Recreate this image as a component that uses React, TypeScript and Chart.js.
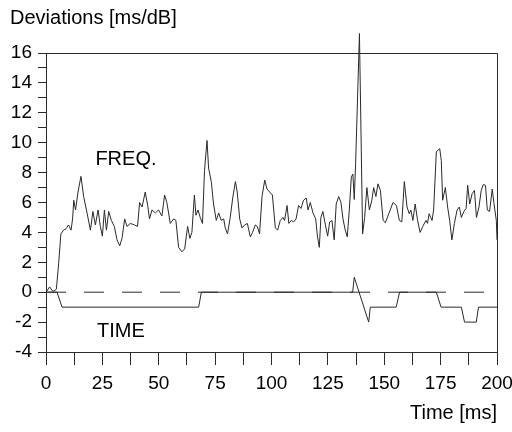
import React, { useEffect, useRef } from 'react';
import { Chart, registerables } from 'chart.js';

Chart.register(...registerables);

// FREQ series (time in ms, deviation in ms/dB)
const freqTimes = [
  0, 1.6, 3.1, 4.6, 5.6, 6.6, 7.8, 8.9, 10.0, 11.1, 11.8, 12.3, 13.1, 14.2, 15.5, 16.7, 18.2, 19.7,
  20.8, 21.9, 23.1, 24.1, 25.0, 25.9, 26.8, 27.8, 29.0, 30.3, 31.5, 32.7, 33.7, 34.9, 35.9, 37.4,
  39.2, 40.6, 41.5, 42.6, 44.0, 45.1, 45.9, 47.0, 48.5, 49.9, 51.4, 52.6, 53.6, 55.1, 56.6, 57.6,
  58.8, 60.3, 61.5, 62.8, 63.8, 64.7, 65.8, 66.5, 67.4, 68.4, 69.4, 70.3, 71.4, 72.1, 73.3, 74.3,
  75.5, 76.6, 77.7, 78.8, 79.5, 80.5, 81.7, 82.8, 84.0, 84.8, 85.9, 86.9, 88.1, 89.3, 90.6, 91.6,
  92.8, 93.7, 94.7, 95.8, 97.0, 98.0, 99.2, 100.4, 101.7, 102.7, 103.9, 105.1, 105.8, 106.9, 107.7,
  108.8, 109.8, 110.9, 112.0, 113.1, 114.2, 115.4, 116.2, 117.2, 118.4, 119.6, 120.4, 121.2, 121.9,
  122.8, 123.9, 124.9, 125.8, 126.8, 127.8, 128.7, 129.8, 130.8, 131.7, 132.7, 133.6, 134.5, 135.4,
  136.1, 136.7, 137.3, 139.0, 140.4, 141.3, 142.3, 143.4, 144.5, 145.3, 146.3, 147.2, 148.3, 149.5,
  150.5, 152.0, 153.9, 155.4, 156.7, 157.8, 158.9, 160.1, 161.1, 161.8, 162.7, 163.7, 164.8, 165.9,
  167.1, 168.5, 169.2, 169.9, 171.2, 171.9, 173.1, 174.6, 175.3, 175.9, 177.1, 178.1, 179.0, 180.0,
  181.1, 182.3, 183.3, 184.2, 185.3, 186.3, 187.0, 187.9, 189.0, 190.0, 190.9, 192.0, 193.0, 193.9,
  194.9, 195.7, 196.7, 197.9, 198.6, 199.7, 200.0,
];
const freqValues = [
  0, 0.35, 0.05, 0.2, 1.9, 3.9, 4.15, 4.25, 4.5, 4.15, 4.9, 6.15, 5.5, 6.7, 7.75, 6.4, 5.3, 4.15,
  5.4, 4.5, 5.5, 4.4, 3.75, 5.5, 4.15, 5.4, 4.8, 4.4, 3.5, 3.1, 3.6, 4.9, 4.4, 4.6,
  4.5, 4.4, 6.0, 5.7, 6.7, 5.8, 4.9, 5.5, 5.3, 5.5, 5.1, 6.5, 6.0, 4.6, 4.9, 4.8,
  3.0, 2.7, 2.9, 4.4, 3.6, 4.0, 6.5, 5.15, 5.5, 5.0, 4.6, 8.15, 10.15, 8.3, 7.4, 5.9,
  4.8, 5.3, 4.8, 4.9, 4.3, 3.9, 5.0, 6.3, 7.4, 6.7, 4.9, 4.3, 4.5, 4.6, 3.7, 4.0,
  4.5, 4.4, 3.9, 6.4, 7.5, 6.9, 6.7, 6.5, 4.3, 4.15, 4.8, 5.0, 4.8, 5.8, 4.6,
  4.8, 4.7, 4.9, 5.8, 5.6, 6.15, 6.3, 5.5, 6.0, 5.3, 4.9, 3.7, 3.0, 5.0,
  5.4, 4.5, 3.75, 4.7, 4.8, 3.5, 5.9, 6.4, 6.0, 4.9, 4.15, 3.7, 5.5, 7.7,
  7.9, 6.2, 8.6, 17.3, 3.9, 5.0, 7.0, 5.5, 6.15, 7.0, 6.4, 7.25, 6.8, 4.8,
  4.65, 5.25, 6.0, 5.8, 4.8, 4.7, 7.4, 5.7, 5.25, 5.5, 4.8, 5.9, 4.8, 4.0,
  4.4, 4.8, 4.6, 5.25, 4.8, 5.5, 9.4, 9.6, 8.8, 6.15, 7.0, 5.7, 4.8, 3.5,
  4.6, 5.5, 5.7, 5.0, 5.4, 5.6, 7.15, 5.9, 6.6, 6.8, 5.0, 5.7, 6.8, 7.2,
  7.15, 5.5, 5.4, 6.9, 6.0, 4.8, 3.5,
];

// TIME series
const timeTimes = [0, 4.9, 7.1, 67.7, 68.9, 136.0, 136.7, 143.1, 143.8, 155.3, 156.8, 173.1, 175.2, 184.2, 185.6, 190.8, 191.8, 200];
const timeValues = [0, 0, -1, -1, 0, 0, 1, -2, -1, -1, 0, 0, -1, -1, -2, -2, -1, -1];

// dashed zero reference
const zeroTimes = [0, 200];
const zeroValues = [0, 0];

// tick labels
const xLabelTicks = [0, 25, 50, 75, 100, 125, 150, 175, 200];
const yLabelTicks = [-4, -2, 0, 2, 4, 6, 8, 10, 12, 14, 16];

// in-plot series labels (data coordinates)
const seriesLabels = ['FREQ.', 'TIME'];
const seriesLabelX = [21.9, 22.6];
const seriesLabelY = [8.9, -2.6];

const yTitle = 'Deviations [ms/dB]';
const xTitle = 'Time [ms]';

const FONT = '"Liberation Sans", Arial, sans-serif';
const INK = '#2a2a2a';

const toPoints = (xs: number[], ys: number[]) => xs.map((x, i) => ({ x, y: ys[i] }));

const decorPlugin = {
  id: 'decor',
  afterDraw(chart: any) {
    const { ctx, chartArea, scales } = chart;
    ctx.save();
    ctx.strokeStyle = INK;
    ctx.lineWidth = 1;
    ctx.beginPath();
    ctx.moveTo(chartArea.left, chartArea.top + 0.5);
    ctx.lineTo(chartArea.right + 0.5, chartArea.top + 0.5);
    ctx.lineTo(chartArea.right + 0.5, chartArea.bottom);
    ctx.stroke();
    ctx.fillStyle = '#000';
    ctx.font = `20px ${FONT}`;
    ctx.textAlign = 'left';
    ctx.textBaseline = 'middle';
    ctx.fillText(yTitle, 10, 18);
    seriesLabels.forEach((t, i) => {
      const px = scales.x.getPixelForValue(seriesLabelX[i]);
      const py = scales.y.getPixelForValue(seriesLabelY[i]);
      ctx.fillText(t, px, py);
    });
    ctx.restore();
  },
};

export default function App() {
  const ref = useRef<HTMLCanvasElement | null>(null);
  useEffect(() => {
    if (!ref.current) return;
    const chart = new Chart(ref.current, {
      type: 'line',
      data: {
        datasets: [
          {
            label: 'zero',
            data: toPoints(zeroTimes, zeroValues),
            borderColor: INK,
            borderWidth: 1,
            borderDash: [20, 18],
            pointRadius: 0,
            tension: 0,
          },
          {
            label: 'TIME',
            data: toPoints(timeTimes, timeValues),
            borderColor: INK,
            borderWidth: 1,
            pointRadius: 0,
            tension: 0,
          },
          {
            label: 'FREQ.',
            data: toPoints(freqTimes, freqValues),
            borderColor: INK,
            borderWidth: 1,
            pointRadius: 0,
            tension: 0,
            clip: false,
          } as any,
        ],
      },
      options: {
        animation: false,
        responsive: false,
        maintainAspectRatio: false,
        layout: { padding: { top: 53, right: 0, left: 0, bottom: 0 } },
        plugins: { legend: { display: false }, tooltip: { enabled: false }, title: { display: false } },
        scales: {
          x: {
            type: 'linear',
            min: 0,
            max: 200,
            ticks: {
              stepSize: 12.5,
              autoSkip: false,
              maxRotation: 0,
              padding: 7,
              color: '#000',
              font: { size: 19, family: FONT },
              callback: (v: any) => (xLabelTicks.includes(Number(v)) ? String(v) : ''),
            },
            grid: { display: true, drawOnChartArea: false, drawTicks: true, tickLength: 13, color: INK, lineWidth: 1 },
            border: { display: true, color: INK, width: 1 },
            title: {
              display: true,
              text: xTitle,
              align: 'end',
              color: '#000',
              font: { size: 20, family: FONT },
              padding: { top: 4, bottom: 7 },
            },
            afterFit: (s: any) => {
              s.height = 80;
              s.paddingRight = 15;
              s.paddingLeft = 0;
            },
          },
          y: {
            type: 'linear',
            min: -4,
            max: 16,
            ticks: {
              stepSize: 1,
              autoSkip: false,
              padding: 6,
              color: '#000',
              font: { size: 19, family: FONT },
              callback: (v: any) => (yLabelTicks.includes(Number(v)) ? String(v) : ''),
            },
            grid: { display: true, drawOnChartArea: false, drawTicks: true, tickLength: 8, color: INK, lineWidth: 1 },
            border: { display: true, color: INK, width: 1 },
            afterFit: (s: any) => {
              s.width = 46;
            },
          },
        },
      } as any,
      plugins: [decorPlugin],
    });
    return () => chart.destroy();
  }, []);
  return (
    <div style={{ position: 'absolute', left: 0, top: 0, width: 512, height: 432, background: '#fff' }}>
      <canvas ref={ref} width={512} height={432} />
    </div>
  );
}
